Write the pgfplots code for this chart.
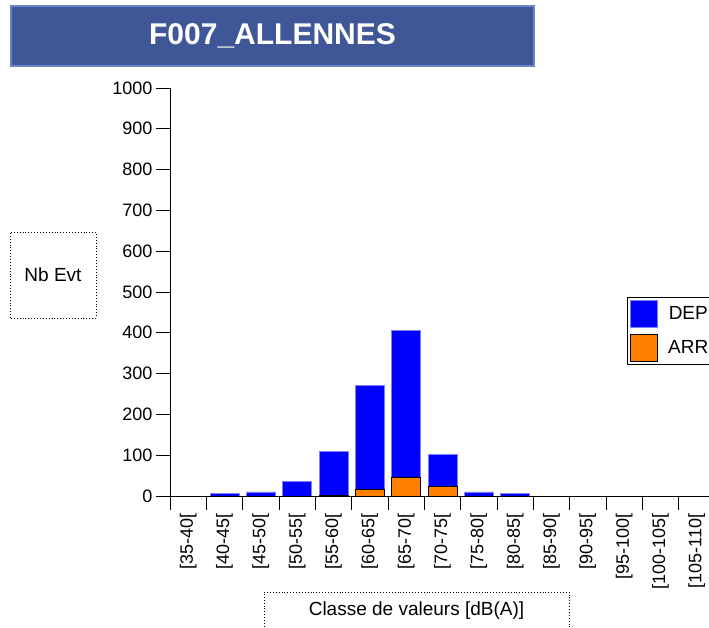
\documentclass[border=0pt]{standalone}
\usepackage{fontspec}
\setmainfont{Liberation Sans}
\usepackage{pgfplots}
\pgfplotsset{compat=1.18}
\definecolor{titlefill}{HTML}{3F5797}
\definecolor{titleborder}{HTML}{6A86C8}
\definecolor{depblue}{HTML}{0000FF}
\definecolor{depedge}{HTML}{8080FF}
\definecolor{arrorange}{HTML}{FF8000}
\newcommand\tf{\fontsize{18}{21}\selectfont}
\begin{document}
\begin{tikzpicture}
\path[use as bounding box, clip] (0pt,0pt) rectangle (709pt,627pt);
\fill[white] (0pt,0pt) rectangle (709pt,627pt);
\node[draw=titleborder, line width=2pt, fill=titlefill, minimum width=523pt, minimum height=60pt, text=white, font=\fontsize{30}{33}\selectfont\bfseries] at (272.5pt,591pt) {F007\_ALLENNES};
\draw[dotted, line width=0.9pt] (10pt,309pt) rectangle (96pt,395pt);
\node[font=\fontsize{19}{22}\selectfont] at (53pt,352pt) {Nb Evt};
\draw[dotted, line width=0.9pt] (264pt,-20pt) rectangle (569pt,35pt);
\node[font=\fontsize{19}{22}\selectfont] at (416.5pt,16pt) {Classe de valeurs [dB(A)]};
\begin{axis}[
  at={(170pt,131pt)}, anchor=south west,
  scale only axis, width=545pt, height=408pt,
  xmin=-0.5, xmax=14.5, ymin=0, ymax=1000,
  axis x line=bottom, axis y line=left,
  axis line style={-, line width=0.9pt},
  every tick/.style={black, line width=0.9pt},
  tick align=outside, major tick length=14pt,
  ytick={0,100,...,1000},
  xtick={-0.5,0.5,...,14.5},
  x tick label as interval,
  xticklabels={{[35-40[},{[40-45[},{[45-50[},{[50-55[},{[55-60[},{[60-65[},{[65-70[},{[70-75[},{[75-80[},{[80-85[},{[85-90[},{[90-95[},{[95-100[},{[100-105[},{[105-110[}},
  xticklabel style={rotate=90, anchor=east, font=\tf},
  yticklabel style={font=\tf},
  /pgf/number format/assume math mode=true,
  /pgf/number format/set thousands separator={},
  ybar, bar width=29pt, bar shift=0pt,
  legend image code/.code={\draw[#1, line width=0.8pt] (0pt,-13.5pt) rectangle (27pt,13.5pt);},
  axis on top,
  legend style={at={(0.8385,0.4877)}, anchor=north west, draw=black, line width=0.9pt, font=\fontsize{19}{22}\selectfont, inner xsep=3pt, inner ysep=2.5pt, row sep=6pt, column sep=8pt},
]
\addplot[fill=depblue, draw=depedge, line width=0.8pt]
  coordinates {(1,6)(2,10)(3,36)(4,110)(5,270)(6,405)(7,102)(8,10)(9,6)};
\addlegendentry{DEP}
\addplot[fill=arrorange, draw=black, line width=0.8pt]
  coordinates {(4,2)(5,15)(6,46)(7,24)};
\addlegendentry{ARR}
\end{axis}
\end{tikzpicture}
\end{document}
